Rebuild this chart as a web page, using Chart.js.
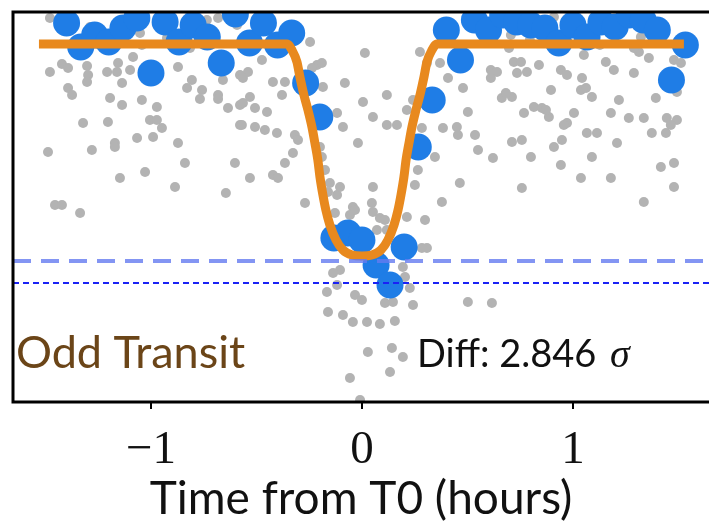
<!DOCTYPE html>
<html>
<head>
<meta charset="utf-8">
<script src="https://cdn.jsdelivr.net/npm/chart.js@4.4.1/dist/chart.umd.min.js"></script>
<style>
  html, body { margin: 0; padding: 0; background: #fff; }
  canvas { display: block; }
</style>
</head>
<body>
<canvas id="chart" width="709" height="528"></canvas>
<script>
// ===== data (time in hours from T0, flux in ppm relative to baseline) =====
const xTicks = [-1, 0, 1];
const xRange = [-1.654, 1.645];
const yRange = [-3580, 320];

// binned points (4 min bins)
const binTime = [
  -1.400, -1.333, -1.267, -1.200, -1.133, -1.067, -1.000, -0.933, -0.867, -0.800,
  -0.733, -0.667, -0.600, -0.533, -0.467, -0.400, -0.333, -0.267, -0.200, -0.133,
  -0.067, 0.000, 0.067, 0.133, 0.200, 0.267, 0.333, 0.400, 0.467, 0.533,
  0.600, 0.667, 0.733, 0.800, 0.867, 0.933, 1.000, 1.067, 1.133, 1.200,
  1.267, 1.333, 1.400, 1.467, 1.533
];
const binFlux = [
  210, -30, 90, 20, 160, 260, -290, 220, 20, 190,
  70, -190, 300, 10, 210, -10, 110, -390, -730, -1940,
  -1890, -1960, -2210, -2410, -2030, -1030, -560, 140, -160, 240,
  140, 290, 220, 190, 160, 10, 190, 70, 220, 170,
  290, 240, 140, -360, -10
];

// unbinned points [time, flux]
const rawPoints = [
  [-1.479, 260], [-1.289, 170], [-1.052, 110], [-0.924, 60], [-0.735, 240], [-0.682, 260], [-0.592, 190],
  [-1.479, -280], [-1.422, -200], [-1.393, -240], [-1.303, -220], [-1.298, -310], [-1.303, -380],
  [-1.393, -440], [-1.374, -510], [-1.208, -280], [-1.156, -190], [-1.161, -280], [-1.099, -260],
  [-1.137, -390], [-1.194, -540], [-1.137, -610], [-1.085, -130], [-1.043, -560], [-0.972, -630],
  [-1.005, -760], [-0.972, -760], [-0.948, -840], [-1.322, -790], [-1.204, -780], [-1.171, -990],
  [-1.171, -1030], [-1.066, -940], [-0.990, -930], [-0.872, -990], [-1.280, -1060], [-1.488, -1080],
  [-0.839, -1190], [-1.028, -1280], [-1.147, -1340], [-0.886, -1430], [-0.872, -230], [-0.806, -360],
  [-0.829, -440], [-0.758, -460], [-0.768, -550], [-0.682, -510], [-0.682, -550], [-0.635, -640],
  [-0.578, -610], [-0.578, -810], [-0.602, -1190], [-0.645, -1490], [-0.578, -310], [-0.659, -360],
  [-0.540, -280], [-1.455, -1610], [-1.422, -1610], [-1.336, -1690], [-1.043, -10], [-1.242, -10],
  [-0.815, -40],
  [-0.564, -340], [-0.422, -380], [-0.365, -380], [-0.379, -510], [-0.531, -530], [-0.564, -590],
  [-0.507, -640], [-0.450, -680], [-0.569, -810], [-0.507, -830], [-0.460, -860], [-0.403, -890],
  [-0.318, -910], [-0.303, -960], [-0.327, -1090], [-0.365, -1190], [-0.422, -1310], [-0.398, -1340],
  [-0.531, -1340], [-0.474, -160], [-0.270, -1590], [-0.213, -210], [-0.190, -190], [-0.237, -240],
  [-0.185, -430], [-0.199, -1030], [-0.190, -1130], [-0.175, -1260], [-0.246, 20], [-0.161, -1480],
  [-0.152, -1390], [-0.118, -1510], [-0.104, -1430],
  [-0.118, -690], [-0.090, -830], [-0.081, -390], [0.014, -90], [0.005, -580], [-0.019, -990],
  [0.052, -730], [0.118, -510], [0.118, -810], [0.166, -810], [0.052, -1430], [0.047, -1590],
  [0.213, -660], [0.242, -560], [0.275, -80], [0.284, -840], [0.265, -1260], [0.251, -1410],
  [-0.128, -1690], [-0.043, -1630], [-0.057, -1710], [0.052, -1680], [0.085, -1740], [0.109, -1760],
  [0.213, -1730], [0.299, -1760], [0.284, -2040], [0.308, -2040], [0.071, -1860], [0.118, -1860],
  [-0.104, -2260], [-0.137, -2290], [-0.118, -2410], [-0.166, -2480], [-0.033, -2510], [0.000, -2560],
  [0.194, -2230], [0.204, -2330], [0.227, -2440], [0.109, -2590], [0.147, -2580], [0.242, -2610],
  [-0.161, -2680], [-0.090, -2710], [-0.043, -2780], [0.024, -2780], [0.085, -2800], [0.156, -2770],
  [0.028, -3080], [0.142, -3040], [0.194, -3130], [0.133, -3280], [-0.057, -3340], [-0.009, -3560],
  [0.502, -2580], [0.616, -2590], [-0.033, -1660],
  [0.370, -190], [0.308, -190], [0.408, -340], [0.479, -440], [0.502, -680], [0.384, -840],
  [0.450, -830], [0.455, -910], [0.536, -910], [0.346, -1130], [0.464, -1390], [0.379, -1580],
  [0.550, -1060], [0.621, -1140],
  [0.706, 90], [0.697, -40], [0.720, -180], [0.754, -180], [0.735, -290], [0.782, -280],
  [0.611, -260], [0.640, -280], [0.611, -340], [0.839, -210], [0.943, -260], [0.972, -310],
  [1.052, -110], [1.043, -340], [1.038, -460], [1.062, -440], [1.156, -180], [1.194, -260],
  [1.289, -290], [1.313, -80], [1.360, -140], [1.322, 70], [1.479, -160], [1.512, -190],
  [1.493, -480], [1.393, -540], [0.896, -460], [0.663, -540], [0.711, -530], [0.682, -490],
  [0.768, -690], [0.815, -630], [0.853, -640], [0.886, -730], [0.872, -660], [1.005, -690],
  [0.972, -790], [0.957, -810], [1.090, -530], [1.218, -560], [1.180, -690], [1.265, -740],
  [1.336, -740], [1.445, -740], [1.493, -760], [1.464, -810], [1.441, -890], [1.374, -890],
  [1.066, -890], [1.114, -890], [1.209, -990], [0.948, -960], [0.910, -1030], [0.758, -960],
  [0.711, -980], [0.801, -1130], [0.943, -1210], [1.090, -1130], [1.417, -1230], [1.479, -1190],
  [1.479, -1430], [1.038, -1340], [1.180, -1340], [0.758, -1440], [1.336, -1580], [0.910, 270],
  [0.796, 40], [1.128, -10], [1.412, 40], [1.289, -40], [0.559, 240]
];

// transit model
const modelTime = [
  -1.531, -0.355, -0.332, -0.308, -0.294, -0.275, -0.256, -0.237, -0.223, -0.209, -0.199,
  -0.185, -0.171, -0.152, -0.123, -0.090, -0.047, 0.000, 0.047, 0.090, 0.123, 0.152,
  0.171, 0.185, 0.199, 0.209, 0.223, 0.237, 0.256, 0.275, 0.294, 0.308, 0.332, 0.355, 1.526
];
const modelFlux = [
  0, 0, -60, -180, -330, -510, -660, -830, -990, -1160, -1330,
  -1510, -1660, -1810, -1960, -2060, -2110, -2120, -2110, -2060, -1960, -1810,
  -1660, -1510, -1330, -1160, -990, -830, -660, -510, -330, -180, -60, 0, 0
];

// depth levels
const depthLevel = -2170;
const depthLevelOther = -2390;

const panelLabel = 'Odd Transit';
const diffLabel = 'Diff: 2.846 ';
const sigmaLabel = 'σ';
const xTitle = 'Time from T0 (hours)';

// ===== build =====
const pairs = (xs, ys) => xs.map((v, i) => ({ x: v, y: ys[i] }));
const hline = v => [{ x: xRange[0], y: v }, { x: xRange[1], y: v }];

const overlay = {
  id: 'overlay',
  afterDatasetsDraw(chart) {
    const { ctx, chartArea: a, scales: { x, y } } = chart;
    ctx.save();
    ctx.strokeStyle = '#000';
    ctx.lineWidth = 3;
    ctx.beginPath();
    ctx.moveTo(a.right + 5, a.top);
    ctx.lineTo(a.left, a.top);
    ctx.lineTo(a.left, a.bottom);
    ctx.lineTo(a.right + 5, a.bottom);
    ctx.stroke();

    ctx.textBaseline = 'alphabetic';
    ctx.textAlign = 'left';
    ctx.fillStyle = '#6b4518';
    ctx.font = '45px Lato';
    ctx.fillText(panelLabel, x.getPixelForValue(-1.640), y.getPixelForValue(-3240));

    ctx.fillStyle = '#111';
    ctx.font = '38px Lato';
    const dx = x.getPixelForValue(0.261);
    const dy = y.getPixelForValue(-3230);
    ctx.fillText(diffLabel, dx, dy);
    const w = ctx.measureText(diffLabel).width;
    ctx.font = 'italic 40px "Liberation Serif"';
    ctx.fillText(sigmaLabel, dx + w + 4, dy);
    ctx.restore();
  }
};

new Chart(document.getElementById('chart'), {
  type: 'scatter',
  data: {
    datasets: [
      {
        data: hline(depthLevelOther),
        showLine: true, pointRadius: 0,
        borderColor: '#1a22f5', borderWidth: 2.2, borderDash: [6, 4], clip: 0
      },
      {
        data: hline(depthLevel),
        showLine: true, pointRadius: 0,
        borderColor: 'rgba(100,122,240,0.8)', borderWidth: 4, borderDash: [18, 10], clip: 0
      },
      {
        data: pairs(modelTime, modelFlux),
        showLine: true, pointRadius: 0,
        borderColor: '#e8891e', borderWidth: 9,
        cubicInterpolationMode: 'monotone', clip: 0
      },
      {
        data: pairs(binTime, binFlux),
        pointRadius: 13.5, pointBorderWidth: 0,
        backgroundColor: '#1f7de6', clip: 0
      },
      {
        data: rawPoints.map(p => ({ x: p[0], y: p[1] })),
        pointRadius: 5, pointBorderWidth: 0,
        backgroundColor: '#b3b3b3', clip: 0
      }
    ]
  },
  options: {
    responsive: false,
    animation: false,
    layout: { autoPadding: false, padding: { left: 13, top: 12, right: 0, bottom: 0 } },
    plugins: { legend: { display: false }, tooltip: { enabled: false } },
    scales: {
      x: {
        type: 'linear',
        min: xRange[0], max: xRange[1],
        afterBuildTicks: s => { s.ticks = xTicks.map(v => ({ value: v })); },
        afterFit: s => { s.height = 126; s.paddingLeft = 0; s.paddingRight = 0; },
        grid: { drawOnChartArea: false, color: '#000', lineWidth: 2, tickLength: 7 },
        border: { display: false },
        ticks: {
          color: '#111', padding: 13,
          font: { family: '"Liberation Serif"', size: 47 },
          callback: v => (v < 0 ? '\u2212' + Math.abs(v) : String(v))
        },
        title: {
          display: true, text: xTitle, color: '#111',
          font: { family: 'Lato', size: 46, lineHeight: 1.2 },
          padding: { top: 0, bottom: 1 }
        }
      },
      y: {
        display: false,
        min: yRange[0], max: yRange[1]
      }
    }
  },
  plugins: [overlay]
});
</script>
</body>
</html>
